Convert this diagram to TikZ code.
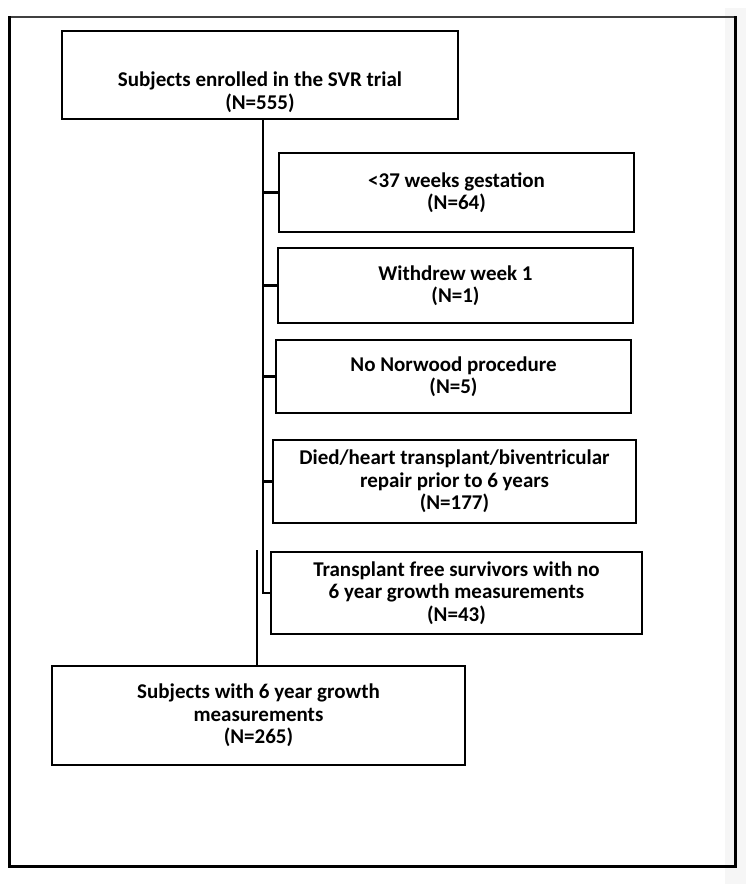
\documentclass[tikz,border=0pt]{standalone}
\usepackage{fontspec}
\setmainfont{Carlito}

\tikzset {
    box/.style={rectangle, draw=black, line width=2pt, fill=white, align=center,
        font=\bfseries\fontsize{21}{22.5}\selectfont},
    conn/.style={draw=black, line width=2.4pt},
}

\begin{document}
\begin{tikzpicture}[x=1pt, y=-1pt]
    \useasboundingbox (0, 0) rectangle (754, 884);
    \fill [gray!7] (725, 8) rectangle (746, 884);
    \draw [line width=1.5pt, black!75] (9, 17) -- (735, 17);
    \draw [line width=3pt] (9, 16) -- (9, 866) -- (735, 866) -- (735, 16);
    \node (enrol) at (260, 74.5) [box, minimum width=396, minimum height=88] {\rule{0pt}{50pt}Subjects enrolled in the SVR trial\\(N=555)};
    \node (excl1) at (456.5, 192.5) [box, minimum width=355, minimum height=79] {<37 weeks gestation\\(N=64)};
    \node (excl2) at (455.5, 285.5) [box, minimum width=355, minimum height=75] {Withdrew week 1\\(N=1)};
    \node (excl3) at (453.5, 376.5) [box, minimum width=355, minimum height=73] {No Norwood procedure\\(N=5)};
    \node (excl4) at (454.5, 481.5) [box, minimum width=363, minimum height=83] {Died/heart transplant/biventricular\\repair prior to 6 years\\(N=177)};
    \node (excl5) at (456.5, 593) [box, minimum width=371, minimum height=82] {Transplant free survivors with no\\6 year growth measurements\\(N=43)};
    \node (final) at (258.5, 715.5) [box, minimum width=413, minimum height=99] {Subjects with 6 year growth\\measurements\\(N=265)};
    \coordinate (trunkA) at (263, 118);
    \coordinate (trunkB) at (257, 550);
    \draw [conn] (trunkA) |- (excl5.west);
    \draw [conn] (trunkA |- excl1.west) -- (excl1.west);
    \draw [conn] (trunkA |- excl2.west) -- (excl2.west);
    \draw [conn] (trunkA |- excl3.west) -- (excl3.west);
    \draw [conn] (trunkA |- excl4.west) -- (excl4.west);
    \draw [conn] (trunkB) -- (trunkB |- final.north);
\end{tikzpicture}
\end{document}
